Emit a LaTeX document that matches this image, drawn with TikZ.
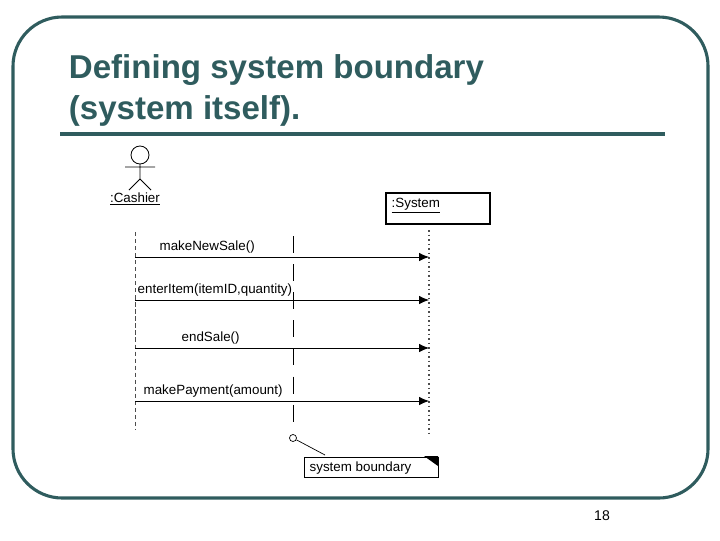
\documentclass[tikz,border=0pt]{standalone}
\usepackage{fontspec}
\setmainfont{Liberation Sans}
\usetikzlibrary{arrows.meta}
\definecolor{slate}{HTML}{2F5C5E}
\tikzset{
  lifeline/.style = {densely dashed, line width=0.6pt, gray!60!black},
  msg/.style = {-{Latex[length=7pt,width=6pt]}, line width=0.6pt},
  lbl/.style = {font=\fontsize{9.5}{11}\selectfont, inner sep=1pt, anchor=south west},
}
\begin{document}
\begin{tikzpicture}[x=0.025cm, y=-0.025cm]
  \useasboundingbox (0,0) rectangle (720,540);
  % frame and title
  \draw[slate, line width=2.2pt, rounded corners=35] (13,17) rectangle (708,498);
  \node[slate, font=\fontsize{23.5}{29}\selectfont\bfseries, align=left, anchor=north west] (title) at (64,50) {Defining system boundary\\(system itself).};
  \draw[slate, line width=2.8pt] (60,134) -- (665,134);
  % actor
  \draw[line width=0.6pt] (140,155) circle (9);
  \draw[line width=0.6pt] (140,164) -- (140,179) (125,167) -- (155,167)
        (129,190) -- (140,179) -- (151,190);
  \node[font=\fontsize{9.5}{11}\selectfont, inner sep=1pt] (cashier) at (135,199) {\underline{:Cashier}};
  % system object
  \node[draw, line width=0.8pt, minimum width=104*0.025cm, minimum height=31*0.025cm] (system) at (438,208.5) {};
  \node[font=\fontsize{9.5}{11}\selectfont, inner sep=1pt, anchor=west] (syslbl) at (390,206) {\underline{:System}};
  % lifelines
  \coordinate (c0) at (135,232); \coordinate (c1) at (135,430);
  \coordinate (s0) at (429,230); \coordinate (s1) at (429,436);
  \coordinate (b0) at (293,236); \coordinate (b1) at (293,424);
  \draw[lifeline] (c0) -- (c1);
  \draw[dotted, line width=1.2pt, gray!60!black] (s0) -- (s1);
  \draw[dash pattern=on 12pt off 8pt, line width=0.6pt] (b0) -- (b1);
  % messages
  \foreach \y/\x/\t in {257/158/makeNewSale(), 300/136/enterItem(itemID{,}quantity), 348/180/endSale(), 401/142/makePayment(amount)}
  {
    \draw[msg] (135,\y) -- (429,\y);
    \node[lbl] at (\x,\y-2) {\t};
  }
  % note
  \node[draw, circle, inner sep=0pt, minimum size=5pt, line width=0.5pt] (dot) at (293,438) {};
  \node[draw, line width=0.6pt, minimum width=134*0.025cm, minimum height=20*0.025cm] (note) at (371,467) {};
  \node[font=\fontsize{9.5}{11}\selectfont, anchor=west, inner sep=1pt] (notelbl) at (308,468) {system boundary};
  \fill (424,456) -- (438,456) -- (438,466) -- cycle;
  \draw[line width=0.5pt] (dot) -- (325,455);
  % page number
  \node[font=\fontsize{10}{12}\selectfont] (page) at (602,516) {18};
\end{tikzpicture}
\end{document}
